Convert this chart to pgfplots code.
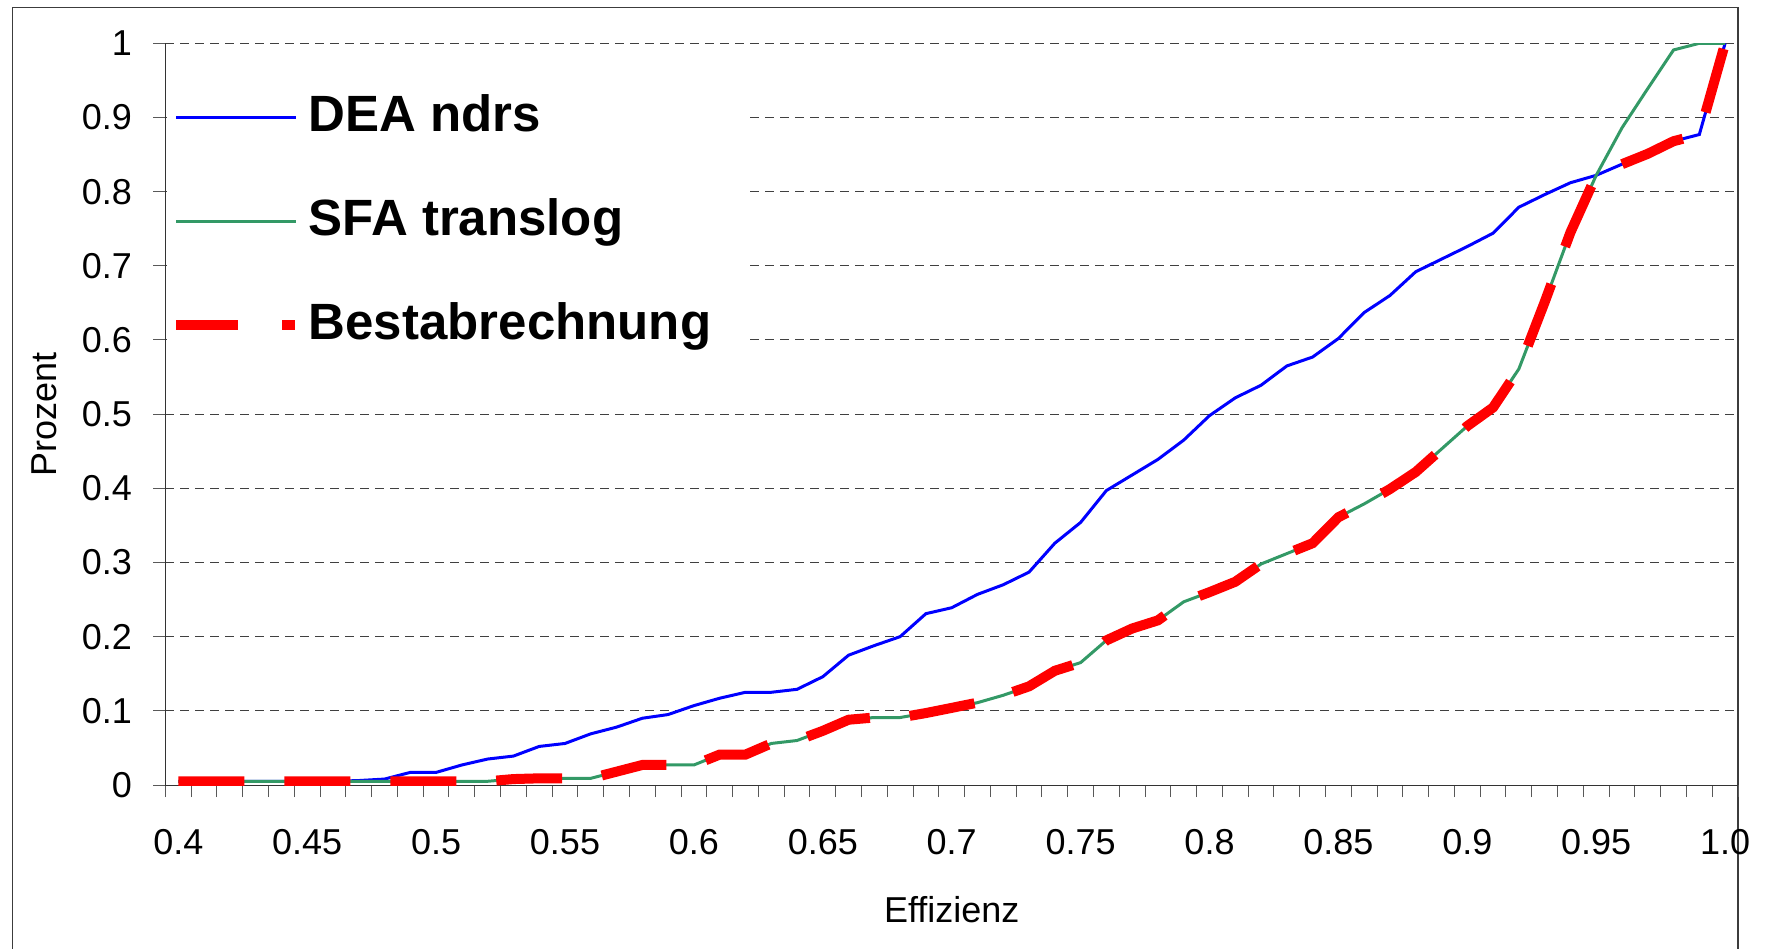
\documentclass[border=0pt]{standalone}
\usepackage{fontspec}
\setmainfont{Liberation Sans}
\usepackage{pgfplots}
\usepackage{pgfplotstable}
\pgfplotsset{compat=1.18}
\definecolor{seagreen}{RGB}{51,153,102}
\definecolor{gridgray}{RGB}{64,64,64}
\definecolor{framegray}{RGB}{60,60,60}

\pgfplotstableread{
x dea sfa best
0.40 0.005 0.005 0.005
0.41 0.005 0.005 0.005
0.42 0.005 0.005 0.005
0.43 0.005 0.005 0.005
0.44 0.005 0.005 0.005
0.45 0.005 0.005 0.005
0.46 0.005 0.005 0.005
0.47 0.006 0.005 0.005
0.48 0.008 0.005 0.005
0.49 0.017 0.005 0.005
0.50 0.017 0.005 0.005
0.51 0.027 0.005 0.005
0.52 0.035 0.005 0.005
0.53 0.039 0.008 0.008
0.54 0.052 0.009 0.009
0.55 0.056 0.009 0.009
0.56 0.069 0.009 0.009
0.57 0.078 0.018 0.018
0.58 0.090 0.027 0.027
0.59 0.095 0.027 0.027
0.60 0.107 0.027 0.027
0.61 0.117 0.041 0.041
0.62 0.125 0.041 0.041
0.63 0.125 0.056 0.056
0.64 0.129 0.060 0.060
0.65 0.146 0.073 0.073
0.66 0.175 0.088 0.088
0.67 0.188 0.091 0.091
0.68 0.200 0.091 0.091
0.69 0.231 0.097 0.097
0.70 0.239 0.104 0.104
0.71 0.257 0.111 0.111
0.72 0.270 0.121 0.121
0.73 0.287 0.133 0.133
0.74 0.326 0.154 0.154
0.75 0.354 0.165 0.165
0.76 0.397 0.195 0.195
0.77 0.418 0.211 0.211
0.78 0.439 0.222 0.222
0.79 0.465 0.247 0.247
0.80 0.498 0.260 0.260
0.81 0.522 0.274 0.274
0.82 0.539 0.298 0.298
0.83 0.565 0.312 0.312
0.84 0.577 0.326 0.326
0.85 0.602 0.361 0.361
0.86 0.637 0.379 0.379
0.87 0.660 0.399 0.399
0.88 0.692 0.422 0.422
0.89 0.709 0.453 0.453
0.90 0.726 0.484 0.484
0.91 0.744 0.509 0.509
0.92 0.779 0.561 0.561
0.93 0.796 0.651 0.651
0.94 0.812 0.745 0.745
0.95 0.822 0.822 0.822
0.96 0.837 0.886 0.837
0.97 0.851 0.939 0.851
0.98 0.868 0.991 0.868
0.99 0.877 1.000 0.877
1.00 1.000 1.000 1.000
}\data

\begin{document}
\begin{tikzpicture}
\path[use as bounding box] (0,0) rectangle (882.5pt,474pt);
\draw[framegray, line width=0.6pt] (6.35pt,-5pt) -- (6.35pt,470.35pt) -- (869pt,470.35pt) -- (869pt,-5pt);
\begin{axis}[
  at={(82.7pt,81.5pt)}, anchor=south west,
  scale only axis, width=786.3pt, height=370.85pt,
  xmin=0.395, xmax=1.005, ymin=0, ymax=1,
  axis x line*=bottom, axis y line*=left,
  axis line style={black!80, line width=0.5pt, -},
  tick align=outside, major tick length=6pt,
  tick style={black!65, line width=0.5pt},
  xtick={0.395,0.405,0.415,0.425,0.435,0.445,0.455,0.465,0.475,0.485,0.495,0.505,0.515,0.525,0.535,0.545,0.555,0.565,0.575,0.585,0.595,0.605,0.615,0.625,0.635,0.645,0.655,0.665,0.675,0.685,0.695,0.705,0.715,0.725,0.735,0.745,0.755,0.765,0.775,0.785,0.795,0.805,0.815,0.825,0.835,0.845,0.855,0.865,0.875,0.885,0.895,0.905,0.915,0.925,0.935,0.945,0.955,0.965,0.975,0.985,0.995,1.005},
  xticklabels={},
  extra x ticks={0.40,0.45,0.50,0.55,0.60,0.65,0.70,0.75,0.80,0.85,0.90,0.95,1.00},
  extra x tick labels={0.4,0.45,0.5,0.55,0.6,0.65,0.7,0.75,0.8,0.85,0.9,0.95,1.0},
  extra x tick style={major tick length=0pt, grid=none,
    xticklabel style={anchor=north, inner sep=0pt, yshift=-22pt, font=\fontsize{18}{20}\selectfont}},
  ytick={0,0.1,0.2,0.3,0.4,0.5,0.6,0.7,0.8,0.9,1},
  yticklabels={0,0.1,0.2,0.3,0.4,0.5,0.6,0.7,0.8,0.9,1},
  yticklabel style={anchor=east, inner sep=0pt, xshift=-10.5pt, font=\fontsize{18}{20}\selectfont},
  /pgf/number format/assume math mode=true,
  ymajorgrids,
  major grid style={gridgray, line width=0.5pt, dash pattern=on 4.2pt off 3.3pt},
  xlabel={Effizienz},
  ylabel={Prozent},
  xlabel style={at={(axis description cs:0.5,-0.186)}, anchor=base, inner sep=0pt, font=\fontsize{18}{20}\selectfont},
  ylabel style={at={(axis description cs:-0.0772,0.5)}, anchor=center, inner sep=0pt, font=\fontsize{18}{20}\selectfont},
  legend style={at={(axis description cs:0.001,0.9707)}, anchor=north west,
    draw=none, fill=white, inner xsep=3.7pt, inner ysep=12.85pt,
    row sep=26pt, column sep=5.5pt,
    font=\bfseries\fontsize{25.5}{30}\selectfont,
    nodes={inner sep=0pt, text height=20pt, text depth=6pt}},
  legend cell align=left,
  legend image code/.code={\draw[#1] (0pt,0pt) -- (60pt,0pt);},
]
\addplot[blue, line width=1.5pt] table[x=x, y=dea] {\data};
\addlegendentry{DEA ndrs}
\addplot[seagreen, line width=1.5pt] table[x=x, y=sfa] {\data};
\addlegendentry{SFA translog}
\addplot[red, line width=5pt, dash pattern=on 33pt off 20pt,
  legend image code/.code={\path[fill=red, draw=none, solid] (0pt,-2.5pt) rectangle (31pt,2.5pt); \path[fill=red, draw=none, solid] (53pt,-2.5pt) rectangle (59.25pt,2.5pt);}]
  table[x=x, y=best] {\data};
\addlegendentry{Bestabrechnung\hspace*{15.6pt}}
\end{axis}
\end{tikzpicture}
\end{document}
